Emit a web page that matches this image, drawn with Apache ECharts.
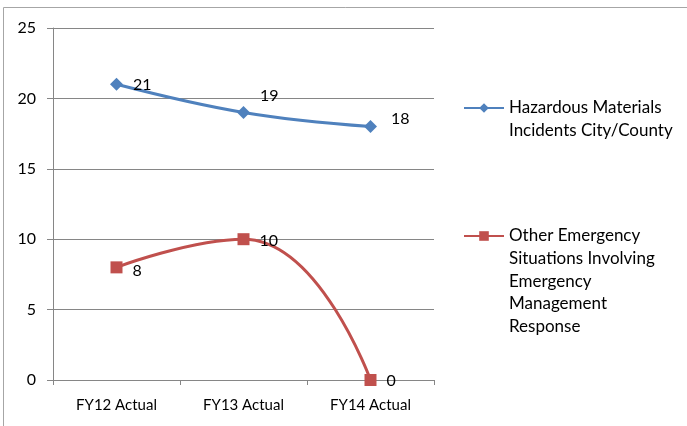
<!DOCTYPE html>
<html>
<head>
<meta charset="utf-8">
<script src="https://cdn.jsdelivr.net/npm/echarts@6/dist/echarts.min.js"></script>
<style>
  html, body { margin: 0; padding: 0; background: #fff; }
  #box1 { width: 687px; height: 426px; }
</style>
</head>
<body>
<div id="box1"></div>
<script>
// 数据
var categories = ["FY12 Actual", "FY13 Actual", "FY14 Actual"]
var hazmatName = "Hazardous Materials Incidents City/County"
var hazmatValues = [21, 19, 18]
var otherName = "Other Emergency Situations Involving Emergency Management Response"
var otherValues = [8, 10, 0]

// 图例文字行
var hazmatLines = ["Hazardous Materials", "Incidents City/County"]
var otherLines = ["Other Emergency", "Situations Involving", "Emergency", "Management", "Response"]

// 标签偏移
var hazmatOffsets = [[0, 1], [0, -17], [4, -8]]
var otherOffsets = [[0, 3], [0, 2], [0, 1]]

var font = "Lato, 'Open Sans', sans-serif"
var lineH = 22.6

function withOffsets(values, offsets) {
    return values.map(function (v, i) {
        return { value: v, label: { offset: offsets[i] } }
    })
}

// 让第一行和图标对齐：前面补空行
function legendText(lines) {
    var pad = []
    for (var i = 1; i < lines.length; i++) pad.push("")
    return pad.concat(lines).join("\n")
}

function makeLegend(name, lines, firstLineY) {
    return {
        data: [name],
        left: 463,
        top: firstLineY - ((2 * lines.length - 1) * lineH) / 2,
        padding: 0,
        orient: "vertical",
        itemWidth: 40, itemHeight: 12, itemGap: 0,
        formatter: function () { return legendText(lines) },
        textStyle: { fontFamily: font, fontSize: 17, color: "#000", lineHeight: lineH }
    }
}

var MyEcharts1 = echarts.init(document.getElementById("box1"))

var option1 = {
    animation: false,
    textStyle: { fontFamily: font },
    grid: { left: 53, right: 253, top: 28, bottom: 46 },
    // 外框
    graphic: [{
        type: "rect",
        shape: { x: 3.5, y: 7.5, width: 800, height: 600 },
        style: { fill: "none", stroke: "#a6a6a6", lineWidth: 1 }
    }],
    legend: [
        makeLegend(hazmatName, hazmatLines, 108),
        makeLegend(otherName, otherLines, 236)
    ],
    xAxis: {
        type: "category",
        data: categories,
        boundaryGap: true,
        axisLine: { lineStyle: { color: "#868686", width: 1 } },
        axisTick: { show: true, length: 5, lineStyle: { color: "#868686" } },
        axisLabel: { color: "#000", fontSize: 15, fontFamily: font, margin: 18 }
    },
    yAxis: {
        type: "value",
        min: 0, max: 25, interval: 5,
        axisLine: { show: true, lineStyle: { color: "#868686", width: 1 } },
        axisTick: { show: true, length: 6, lineStyle: { color: "#868686" } },
        axisLabel: { color: "#000", fontSize: 16, fontFamily: font, margin: 17 },
        splitLine: { lineStyle: { color: "#868686", width: 1 } }
    },
    series: [
        {
            name: hazmatName,
            type: "line",
            smooth: 0.4,
            data: withOffsets(hazmatValues, hazmatOffsets),
            symbol: "diamond",
            symbolSize: 13,
            itemStyle: { color: "#4f81bd" },
            lineStyle: { color: "#4f81bd", width: 3 },
            label: { show: true, position: "right", distance: 10, color: "#000", fontSize: 16, fontFamily: font }
        },
        {
            name: otherName,
            type: "line",
            smooth: 0.5,
            data: withOffsets(otherValues, otherOffsets),
            symbol: "rect",
            symbolSize: 12,
            itemStyle: { color: "#c0504d" },
            lineStyle: { color: "#c0504d", width: 3 },
            label: { show: true, position: "right", distance: 10, color: "#000", fontSize: 16, fontFamily: font }
        }
    ]
}

MyEcharts1.setOption(option1)
</script>
</body>
</html>
